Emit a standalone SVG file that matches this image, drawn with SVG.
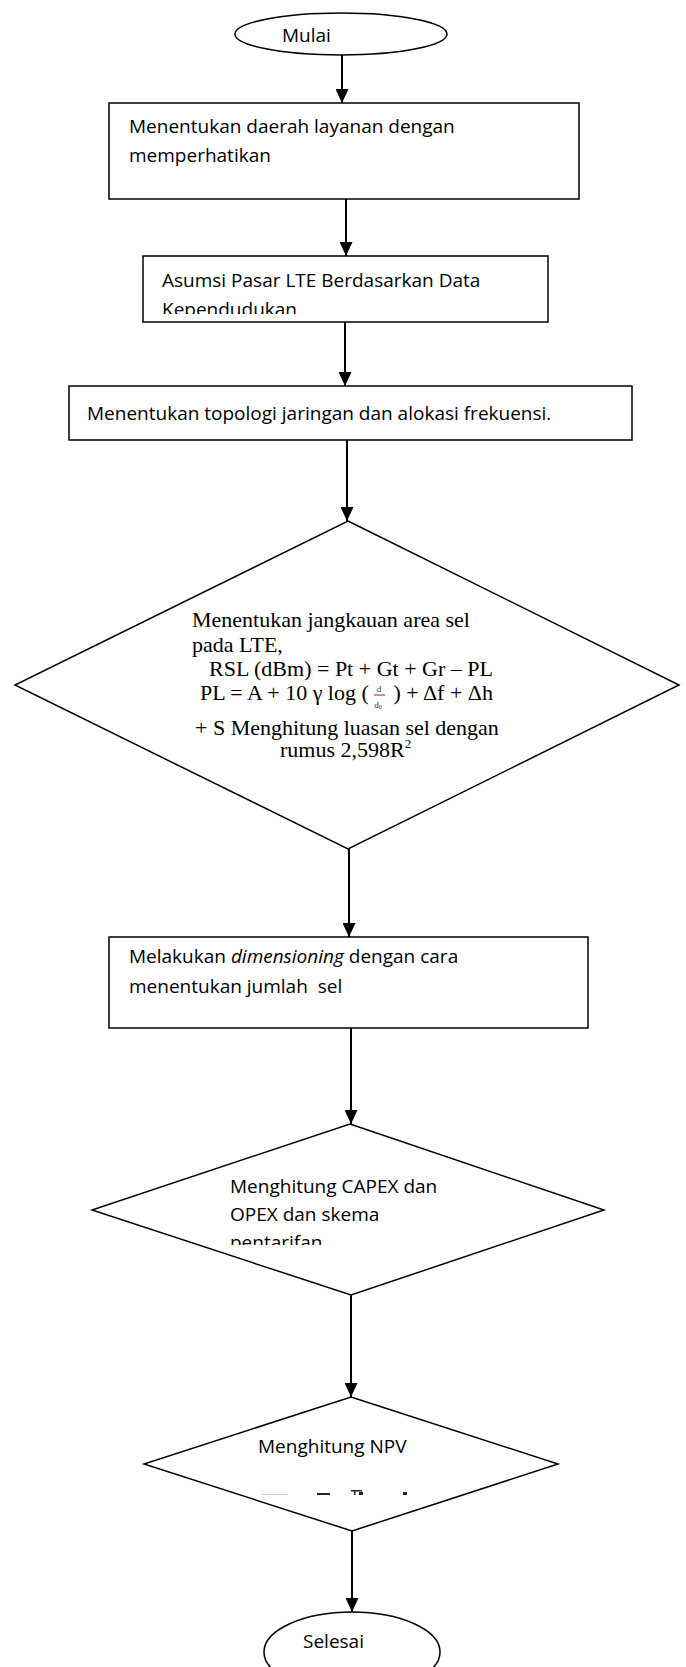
<svg xmlns="http://www.w3.org/2000/svg" width="686" height="1667" viewBox="0 0 686 1667">
<style>
.shape{fill:#fff;stroke:#000;stroke-width:1.5}
.conn{stroke:#000;stroke-width:2;fill:none}
.t{font-family:"Open Sans","Liberation Sans",sans-serif;font-size:19px;fill:#000}
.m{font-family:"Liberation Serif","Times New Roman",serif;font-size:22px;fill:#000}
.frag{fill:#222}
</style>
<defs>
<marker id="arr" markerUnits="userSpaceOnUse" markerWidth="14" markerHeight="13" refX="14" refY="6.5" orient="auto">
<path d="M0,0 L14,6.5 L0,13 z" fill="#000"/>
</marker>
<clipPath id="clipBox2"><rect x="143" y="256" width="405" height="58"/></clipPath>
<clipPath id="clipDia2"><rect x="92" y="1124" width="512" height="121"/></clipPath>
</defs>
<rect width="686" height="1667" fill="#fff"/>

<g id="connectors">
<line class="conn" x1="342" y1="55" x2="342" y2="103" marker-end="url(#arr)"/>
<line class="conn" x1="346" y1="199" x2="346" y2="256" marker-end="url(#arr)"/>
<line class="conn" x1="345" y1="322" x2="345" y2="386" marker-end="url(#arr)"/>
<line class="conn" x1="347" y1="440" x2="347" y2="521" marker-end="url(#arr)"/>
<line class="conn" x1="349" y1="849" x2="349" y2="937" marker-end="url(#arr)"/>
<line class="conn" x1="351" y1="1028" x2="351" y2="1124" marker-end="url(#arr)"/>
<line class="conn" x1="351" y1="1295" x2="351" y2="1397" marker-end="url(#arr)"/>
<line class="conn" x1="352" y1="1531" x2="352" y2="1612" marker-end="url(#arr)"/>
</g>

<g id="mulai">
<ellipse class="shape" cx="341" cy="34" rx="106" ry="21"/>
<text class="t" x="282" y="42">Mulai</text>
</g>

<g id="box1">
<rect class="shape" x="109" y="103" width="470" height="96"/>
<text class="t" x="129" y="133">Menentukan daerah layanan dengan</text>
<text class="t" x="129" y="162">memperhatikan</text>
</g>

<g id="box2">
<rect class="shape" x="143" y="256" width="405" height="66"/>
<g clip-path="url(#clipBox2)">
<text class="t" x="162" y="287">Asumsi Pasar LTE Berdasarkan Data</text>
<text class="t" x="162" y="316">Kependudukan</text>
</g>
</g>

<g id="box3">
<rect class="shape" x="69" y="386" width="563" height="54"/>
<text class="t" x="87" y="420">Menentukan topologi jaringan dan alokasi frekuensi.</text>
</g>

<g id="diamond1">
<polygon class="shape" points="348,521 679,685 348,849 15,685"/>
<text class="m" x="192" y="627">Menentukan jangkauan area sel</text>
<text class="m" x="192" y="652">pada LTE,</text>
<text class="m" x="209" y="676">RSL (dBm) = Pt + Gt + Gr – PL</text>
<text class="m" x="200" y="700">PL = A + 10 γ log (</text>
<text class="m" x="493" y="700" text-anchor="end">) + Δf + Δh</text>
<text x="379" y="692" text-anchor="middle" font-family="Liberation Serif,serif" font-size="9" fill="#333">d</text>
<line x1="374" y1="695" x2="385" y2="695" stroke="#444" stroke-width="1"/>
<text x="378" y="708" text-anchor="middle" font-family="Liberation Serif,serif" font-size="9" fill="#333">d<tspan font-size="6" dy="1">0</tspan></text>
<text class="m" x="195" y="735">+ S Menghitung luasan sel dengan</text>
<text class="m" x="280" y="757">rumus 2,598R<tspan font-size="13" dy="-9">2</tspan></text>
</g>

<g id="box4">
<rect class="shape" x="109" y="937" width="479" height="91"/>
<text class="t" x="129" y="963">Melakukan <tspan font-style="italic">dimensioning</tspan> dengan cara</text>
<text class="t" x="129" y="993" xml:space="preserve">menentukan jumlah  sel</text>
</g>

<g id="diamond2">
<polygon class="shape" points="350,1124 604,1210 351,1295 92,1210"/>
<g clip-path="url(#clipDia2)">
<text class="t" x="230" y="1193">Menghitung CAPEX dan</text>
<text class="t" x="230" y="1221">OPEX dan skema</text>
<text class="t" x="230" y="1249">pentarifan</text>
</g>
</g>

<g id="diamond3">
<polygon class="shape" points="351,1397 558,1464 352,1531 144,1464"/>
<text class="t" x="258" y="1453">Menghitung NPV</text>
<g id="fragments">
<rect class="frag" x="317" y="1493" width="13" height="2"/>
<rect class="frag" x="351" y="1490" width="11" height="1.5"/>
<rect class="frag" x="354" y="1490" width="1.5" height="5"/>
<rect class="frag" x="359" y="1492" width="4" height="3"/>
<rect class="frag" x="403" y="1492" width="4" height="3"/>
<rect x="262" y="1494" width="26" height="1" fill="#ccc"/>
</g>
</g>

<g id="selesai">
<ellipse class="shape" cx="352" cy="1652" rx="88" ry="40"/>
<text class="t" x="303" y="1648">Selesai</text>
</g>
</svg>
